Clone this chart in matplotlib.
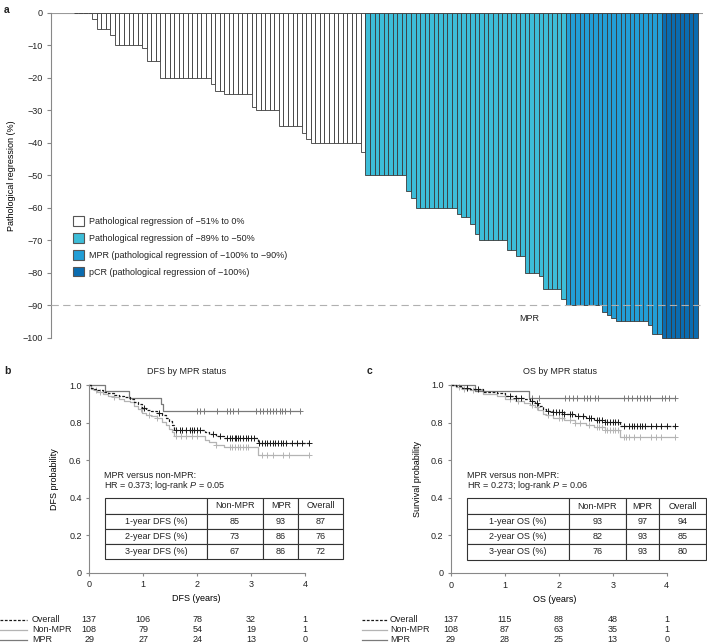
## Pathological regression waterfall + DFS / OS by MPR status

import numpy as np
import matplotlib
matplotlib.use('Agg')
import matplotlib.pyplot as plt
from matplotlib.patches import Patch
from matplotlib.lines import Line2D

plt.rcParams['font.family'] = ['Liberation Sans', 'DejaVu Sans']
plt.rcParams['font.size'] = 6.5
plt.rcParams['mathtext.fontset'] = 'custom'
plt.rcParams['mathtext.rm'] = 'Liberation Sans'
plt.rcParams['mathtext.it'] = 'Liberation Sans:italic'
plt.rcParams['axes.edgecolor'] = '#888888'
plt.rcParams['xtick.color'] = '#888888'
plt.rcParams['ytick.color'] = '#888888'
plt.rcParams['xtick.labelcolor'] = '#222222'
plt.rcParams['ytick.labelcolor'] = '#222222'
plt.rcParams['text.color'] = '#222222'

############################ Panel a: regression per patient ############################
reg_low = [0, 0, 0, 0,
           -2, -5, -5, -5, -7, -10, -10, -10, -10, -10, -10, -11, -15, -15, -15,
           -20, -20, -20, -20, -20, -20, -20, -20, -20, -20, -20,
           -22, -24, -24, -25, -25, -25, -25, -25, -25, -29,
           -30, -30, -30, -30, -30, -35, -35, -35, -35, -35, -37, -39,
           -40, -40, -40, -40, -40, -40, -40, -40, -40, -40, -40, -43]
reg_mid = [-50, -50, -50, -50, -50, -50, -50, -50, -50, -55, -57,
           -60, -60, -60, -60, -60, -60, -60, -60, -60, -62, -63, -63, -65, -68,
           -70, -70, -70, -70, -70, -70, -73, -73, -75, -75, -80, -80, -80, -81,
           -85, -85, -85, -85, -88]
reg_mpr = [-90, -90, -90, -90, -90, -90, -90, -90, -92, -93, -94,
           -95, -95, -95, -95, -95, -95, -95, -96, -99, -99]
reg_pcr = [-100, -100, -100, -100, -100, -100, -100, -100]

group_labels = ['Pathological regression of \u221251% to 0%',
                'Pathological regression of \u221289% to \u221250%',
                'MPR (pathological regression of \u2212100% to \u221290%)',
                'pCR (pathological regression of \u2212100%)']
group_colors = ['#ffffff', '#3dbdd8', '#229ed6', '#0a6cb0']

############################ Panels b, c: Kaplan-Meier readings ############################
# DFS
dfs_all_t = [0, 0.03, 0.08, 0.15, 0.25, 0.35, 0.45, 0.55, 0.65, 0.75, 0.82, 0.9, 0.97,
             1.05, 1.15, 1.25, 1.35, 1.42, 1.48, 1.53, 1.57, 2.15, 2.22, 2.35, 2.5, 3.12]
dfs_all_s = [1.0, 0.985, 0.978, 0.971, 0.963, 0.956, 0.949, 0.941, 0.934, 0.927, 0.912, 0.897, 0.876,
             0.868, 0.861, 0.853, 0.838, 0.823, 0.808, 0.785, 0.762, 0.747, 0.74, 0.73, 0.718, 0.69]
dfs_all_c = [1.02, 1.3, 1.6, 1.68, 1.72, 1.8, 1.86, 1.9, 1.95, 2.0, 2.05, 2.3, 2.42, 2.55, 2.6,
             2.65, 2.7, 2.72, 2.75, 2.8, 2.85, 2.9, 2.95, 3.0, 3.05, 3.15, 3.2, 3.25, 3.3, 3.35,
             3.4, 3.45, 3.5, 3.55, 3.6, 3.65, 3.75, 3.85, 3.95, 4.08]
dfs_non_t = [0, 0.03, 0.08, 0.15, 0.25, 0.35, 0.45, 0.55, 0.65, 0.75, 0.82, 0.9, 0.97,
             1.05, 1.15, 1.25, 1.35, 1.42, 1.48, 1.53, 1.57, 2.15, 2.22, 2.35, 2.5, 3.12]
dfs_non_s = [1.0, 0.981, 0.972, 0.963, 0.954, 0.944, 0.935, 0.926, 0.917, 0.907, 0.889, 0.87, 0.852,
             0.842, 0.833, 0.823, 0.804, 0.785, 0.766, 0.75, 0.728, 0.705, 0.695, 0.683, 0.668, 0.627]
dfs_non_c = [0.12, 0.2, 0.45, 0.95, 1.1, 1.25, 1.6, 1.7, 1.8, 1.9, 2.0, 2.35, 2.6, 2.65, 2.7,
             2.75, 2.8, 2.85, 2.9, 2.95, 3.2, 3.3, 3.4, 3.6, 3.7, 4.07]
dfs_mpr_t = [0, 0.29, 0.74, 1.33, 1.37]
dfs_mpr_s = [1.0, 0.966, 0.931, 0.897, 0.862]
dfs_mpr_c = [2.0, 2.05, 2.13, 2.36, 2.55, 2.61, 2.67, 2.75, 3.09, 3.17, 3.23, 3.29, 3.35,
             3.41, 3.46, 3.53, 3.58, 3.63, 3.72, 3.90]
dfs_end = [4.08, 4.07, 3.91]

# OS
os_all_t = [0, 0.1, 0.2, 0.35, 0.6, 0.85, 1.0, 1.2, 1.35, 1.47, 1.55, 1.62, 1.7, 1.77, 1.9,
            2.1, 2.3, 2.5, 2.65, 2.85, 3.14]
os_all_s = [1.0, 0.993, 0.985, 0.978, 0.963, 0.955, 0.94, 0.932, 0.924, 0.915, 0.906, 0.89, 0.873,
            0.864, 0.855, 0.846, 0.836, 0.826, 0.815, 0.805, 0.78]
os_all_c = [0.3, 0.5, 1.1, 1.2, 1.3, 1.5, 1.6, 1.8, 1.9, 1.95, 2.0, 2.05, 2.1, 2.2, 2.25, 2.35,
            2.45, 2.55, 2.6, 2.7, 2.75, 2.8, 2.85, 2.9, 2.95, 3.0, 3.05, 3.1, 3.2, 3.3, 3.35,
            3.4, 3.45, 3.5, 3.55, 3.6, 3.7, 3.8, 3.9, 4.0, 4.16]
os_non_t = [0, 0.1, 0.2, 0.35, 0.6, 0.85, 1.0, 1.2, 1.35, 1.47, 1.55, 1.62, 1.7, 1.77, 1.9,
            2.1, 2.3, 2.5, 2.65, 2.85, 3.14]
os_non_s = [1.0, 0.991, 0.981, 0.972, 0.954, 0.944, 0.926, 0.916, 0.906, 0.895, 0.884, 0.866, 0.848,
            0.838, 0.827, 0.812, 0.8, 0.788, 0.775, 0.762, 0.725]
os_non_c = [0.15, 0.25, 0.4, 1.1, 1.25, 1.5, 1.6, 1.8, 2.0, 2.05, 2.2, 2.3, 2.4, 2.55, 2.7,
            2.75, 2.8, 2.85, 2.9, 2.95, 3.0, 3.05, 3.1, 3.2, 3.25, 3.3, 3.4, 3.5, 3.7, 3.8,
            3.9, 4.16]
os_mpr_t = [0, 0.45, 1.45]
os_mpr_s = [1.0, 0.966, 0.931]
os_mpr_c = [1.5, 1.64, 2.12, 2.18, 2.27, 2.33, 2.46, 2.52, 2.58, 2.67, 2.73, 3.2, 3.29, 3.35,
            3.44, 3.51, 3.57, 3.63, 3.69, 3.91, 3.97, 4.05, 4.16]
os_end = [4.16, 4.16, 4.16]

# tables
risk_years = [0, 1, 2, 3, 4]
dfs_risk_all = [137, 106, 78, 32, 1]
dfs_risk_non = [108, 79, 54, 19, 1]
dfs_risk_mpr = [29, 27, 24, 13, 0]
os_risk_all = [137, 115, 88, 48, 1]
os_risk_non = [108, 87, 63, 35, 1]
os_risk_mpr = [29, 28, 25, 13, 0]

dfs_rows = ['1-year DFS (%)', '2-year DFS (%)', '3-year DFS (%)']
dfs_rate_non = [85, 73, 67]
dfs_rate_mpr = [93, 86, 86]
dfs_rate_all = [87, 76, 72]
os_rows = ['1-year OS (%)', '2-year OS (%)', '3-year OS (%)']
os_rate_non = [93, 82, 76]
os_rate_mpr = [97, 93, 93]
os_rate_all = [94, 85, 80]

col_all = '#1a1a1a'
col_non = '#b4b4b4'
col_mpr = '#7a7a7a'


################################## Functions ########################################
def km_curve(ax, t, s, t_end, cens, color, dashed=False):
    tt = list(t) + [t_end]
    ss = list(s) + [s[-1]]
    ls = (0, (2.2, 1.3)) if dashed else '-'
    ax.step(tt, ss, where='post', color=color, ls=ls, lw=0.9, clip_on=False)
    idx = np.searchsorted(t, cens, side='right') - 1
    ax.plot(cens, np.array(s)[idx], ls='none', marker='+', ms=4, mew=0.7,
            color=color, clip_on=False)


def km_axes(rect):
    ax = fig.add_axes(rect)
    ax.set_xlim(0, 4.2)
    ax.set_ylim(0, 1.0)
    ax.spines['top'].set_visible(False)
    ax.spines['right'].set_visible(False)
    ax.spines['bottom'].set_bounds(0, 4)
    ax.set_xticks(risk_years)
    ax.set_yticks([0, 0.2, 0.4, 0.6, 0.8, 1.0])
    ax.set_yticklabels(['0', '0.2', '0.4', '0.6', '0.8', '1.0'])
    ax.tick_params(length=2.5, width=0.8, pad=3)
    return ax


def rate_table(ax, rows, non, mpr, overall, bbox, widths):
    cells = [['', 'Non-MPR', 'MPR', 'Overall']]
    for r, a, b, c in zip(rows, non, mpr, overall):
        cells.append([r, str(a), str(b), str(c)])
    tb = ax.table(cellText=cells, colWidths=widths, bbox=bbox, cellLoc='center')
    tb.auto_set_font_size(False)
    tb.set_fontsize(6.5)
    for cell in tb.get_celld().values():
        cell.set_linewidth(0.8)
        cell.set_edgecolor('#333333')
    tb.set_clip_on(False)


def risk_table(ax, x_lab, x_line, counts):
    names = ['Overall', 'Non-MPR', 'MPR']
    colors = [col_all, col_non, col_mpr]
    ys = [1 - 619.5 / 644, 1 - 629.5 / 644, 1 - 639.5 / 644]
    trans = matplotlib.transforms.blended_transform_factory(ax.transData, fig.transFigure)
    for name, c, y, n in zip(names, colors, ys, counts):
        ls = (0, (2.2, 1.3)) if name == 'Overall' else '-'
        fig.add_artist(Line2D([x_line[0], x_line[1]], [y, y], transform=fig.transFigure,
                              color=c, lw=0.9, ls=ls))
        fig.text(x_lab, y, name, ha='left', va='center')
        for yr, v in zip(risk_years, n):
            ax.text(yr, y, str(v), transform=trans, ha='center', va='center', clip_on=False)


fig = plt.figure(figsize=(7.07, 6.44), dpi=100)

################################## Panel a ########################################
values = reg_low + reg_mid + reg_mpr + reg_pcr
colors = ([group_colors[0]] * len(reg_low) + [group_colors[1]] * len(reg_mid)
          + [group_colors[2]] * len(reg_mpr) + [group_colors[3]] * len(reg_pcr))
x = np.arange(len(values))

ax = fig.add_axes([50.7 / 707, 1 - 337.7 / 644, 652.3 / 707, 325 / 644])
ax.axhline(0, color='#999999', lw=0.8, zorder=0)
ax.bar(x, values, width=1.0, color=colors, edgecolor='#3a3a3a', linewidth=0.6,
       clip_on=False, zorder=2)
ax.axhline(-90, color='#b0b0b0', lw=0.8, dashes=(6.6, 3.9), zorder=3)
ax.text(99.4, -94.2, 'MPR', ha='center', va='center')
ax.set_xlim(-5.6, 137.6)
ax.set_ylim(-100, 0)
ax.set_xticks([])
ax.set_yticks(np.arange(-100, 1, 10))
ax.tick_params(length=3, width=0.8, pad=2.5)
for sp in ['top', 'right', 'bottom']:
    ax.spines[sp].set_visible(False)
ax.set_ylabel('Pathological regression (%)', fontsize=6.5)
ax.yaxis.set_label_coords(-0.053, 0.5)

handles = [Patch(facecolor=c, edgecolor='#555555', linewidth=0.8) for c in group_colors]
ax.legend(handles, group_labels, loc='upper left', bbox_to_anchor=(72.7 / 707, 1 - 216.5 / 644),
          bbox_transform=fig.transFigure, frameon=False, borderpad=0, borderaxespad=0,
          handlelength=1.2, handleheight=1.2, labelspacing=0.8, handletextpad=0.6,
          fontsize=6.5)

################################## Panel b ########################################
axb = km_axes([89.3 / 707, 1 - 572.7 / 644, 226.5 / 707, 187.7 / 644])
km_curve(axb, dfs_non_t, dfs_non_s, dfs_end[1], dfs_non_c, col_non)
km_curve(axb, dfs_mpr_t, dfs_mpr_s, dfs_end[2], dfs_mpr_c, col_mpr)
km_curve(axb, dfs_all_t, dfs_all_s, dfs_end[0], dfs_all_c, col_all, dashed=True)
axb.set_ylabel('DFS probability')
axb.yaxis.set_label_coords(-0.134, 0.5)
axb.set_xlabel('DFS (years)')
axb.xaxis.set_label_coords(0.474, -0.115)
axb.text(0.066, 0.519, 'MPR versus non-MPR:', transform=axb.transAxes, va='center')
axb.text(0.066, 0.466, 'HR = 0.373; log-rank $\\it{P}$ = 0.05', transform=axb.transAxes, va='center')
rate_table(axb, dfs_rows, dfs_rate_non, dfs_rate_mpr, dfs_rate_all,
           [0.0693, 0.0714, 1.0521, 0.325], [101.7, 56.6, 35, 45])
risk_table(axb, 32 / 707, (0, 27 / 707), [dfs_risk_all, dfs_risk_non, dfs_risk_mpr])
fig.text(186.5 / 707, 1 - 371 / 644, 'DFS by MPR status', ha='center', va='center')

################################## Panel c ########################################
axc = km_axes([451 / 707, 1 - 573 / 644, 226.5 / 707, 188 / 644])
km_curve(axc, os_non_t, os_non_s, os_end[1], os_non_c, col_non)
km_curve(axc, os_mpr_t, os_mpr_s, os_end[2], os_mpr_c, col_mpr)
km_curve(axc, os_all_t, os_all_s, os_end[0], os_all_c, col_all, dashed=True)
axc.set_ylabel('Survival probability')
axc.yaxis.set_label_coords(-0.128, 0.5)
axc.set_xlabel('OS (years)')
axc.xaxis.set_label_coords(0.459, -0.115)
axc.text(0.072, 0.519, 'MPR versus non-MPR:', transform=axc.transAxes, va='center')
axc.text(0.072, 0.466, 'HR = 0.273; log-rank $\\it{P}$ = 0.06', transform=axc.transAxes, va='center')
rate_table(axc, os_rows, os_rate_non, os_rate_mpr, os_rate_all,
           [0.072, 0.0714, 1.053, 0.325], [101.7, 57.3, 33.7, 46.7])
risk_table(axc, 390 / 707, (362 / 707, 387 / 707), [os_risk_all, os_risk_non, os_risk_mpr])
fig.text(559.7 / 707, 1 - 371 / 644, 'OS by MPR status', ha='center', va='center')

# panel letters
fig.text(4 / 707, 1 - 5 / 644, 'a', weight='bold', fontsize=7.5, va='top')
fig.text(4 / 707, 1 - 371 / 644, 'b', weight='bold', fontsize=7.5, va='center')
fig.text(366.7 / 707, 1 - 371 / 644, 'c', weight='bold', fontsize=7.5, va='center')

fig.savefig('out.png', dpi=100)
